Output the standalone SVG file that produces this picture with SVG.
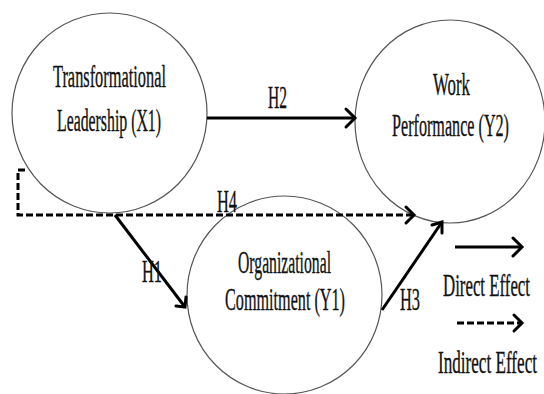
<svg xmlns="http://www.w3.org/2000/svg" width="544" height="394" viewBox="0 0 544 394">
<style>
.node{fill:#fff;stroke:#555;stroke-width:1.2}
.t{font-family:"Liberation Serif",serif;font-size:31px;fill:#111;stroke:#111;stroke-width:0.35}
.solid{stroke:#000;stroke-width:3;fill:none}
.dash{stroke:#000;stroke-width:3;fill:none;stroke-dasharray:7 3}
.head{stroke:#000;stroke-width:3;fill:none;stroke-linecap:round;stroke-linejoin:miter}
</style>
<rect width="544" height="394" fill="#fff"/>
<g id="node-x1">
<ellipse class="node" cx="109.5" cy="113" rx="97.5" ry="100"/>
<text class="t" x="53" y="87" textLength="113" lengthAdjust="spacingAndGlyphs">Transformational</text>
<text class="t" x="57" y="131" textLength="104" lengthAdjust="spacingAndGlyphs">Leadership (X1)</text>
</g>
<g id="node-y2">
<ellipse class="node" cx="450" cy="121.5" rx="95" ry="101.5"/>
<text class="t" x="433" y="95" textLength="37" lengthAdjust="spacingAndGlyphs">Work</text>
<text class="t" x="392" y="136" textLength="117" lengthAdjust="spacingAndGlyphs">Performance (Y2)</text>
</g>
<g id="node-y1">
<ellipse class="node" cx="284.5" cy="295" rx="97.5" ry="99"/>
<text class="t" x="238" y="273" textLength="93" lengthAdjust="spacingAndGlyphs">Organizational</text>
<text class="t" x="225" y="310" textLength="120" lengthAdjust="spacingAndGlyphs">Commitment (Y1)</text>
</g>
<g id="connectors">
<line class="solid" x1="207" y1="118" x2="355" y2="118"/>
<polyline class="head" points="346,109 355,118 346,127"/>
<text class="t" x="268" y="108" textLength="19" lengthAdjust="spacingAndGlyphs">H2</text>
<polyline class="dash" points="25,170 18,170 18,215 413,215"/>
<polyline class="head" points="406,207 414,215 406,223"/>
<text class="t" x="217" y="212" textLength="20" lengthAdjust="spacingAndGlyphs">H4</text>
<line class="solid" x1="115" y1="215" x2="185" y2="307"/>
<polyline class="head" points="176,306 185,307 186,297"/>
<text class="t" x="142" y="282" textLength="20" lengthAdjust="spacingAndGlyphs">H1</text>
<line class="solid" x1="382" y1="310" x2="442" y2="222"/>
<polyline class="head" points="432,225 442,222 442,233"/>
<text class="t" x="400" y="310" textLength="20" lengthAdjust="spacingAndGlyphs">H3</text>
</g>
<g id="legend">
<line class="solid" x1="455" y1="247" x2="521" y2="247"/>
<polyline class="head" points="513,238 522,247 513,256"/>
<text class="t" x="443" y="296" textLength="87" lengthAdjust="spacingAndGlyphs">Direct Effect</text>
<line class="dash" x1="457" y1="323" x2="521" y2="323"/>
<polyline class="head" points="514,315 522,323 514,331"/>
<text class="t" x="438" y="373" textLength="99" lengthAdjust="spacingAndGlyphs">Indirect Effect</text>
</g>
</svg>
